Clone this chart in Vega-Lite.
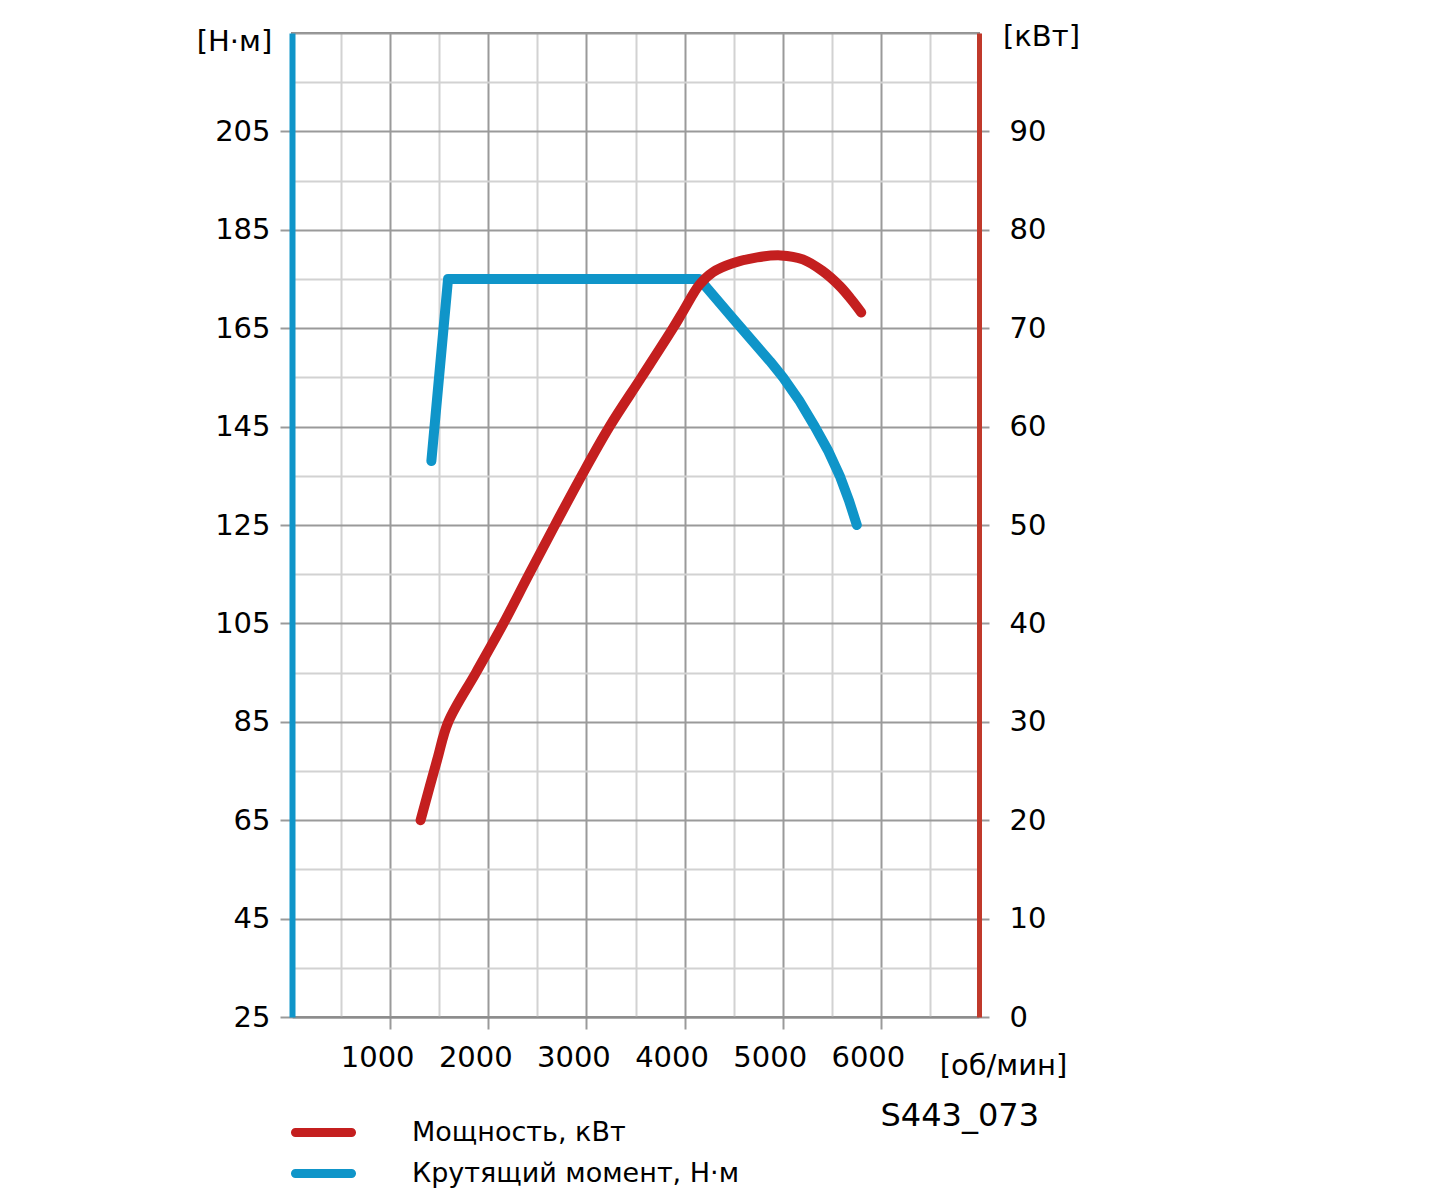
{
  "$schema": "https://vega.github.io/schema/vega-lite/v6.json",
  "width": 687,
  "height": 984,
  "autosize": {"type": "none"},
  "padding": {"left": 292, "top": 33, "right": 457, "bottom": 180},
  "background": "white",
  "config": {
    "view": {"stroke": "#8c8c8c", "strokeWidth": 2},
    "font": "DejaVu Sans"
  },
  "title": {
    "text": "S443_073",
    "orient": "top",
    "anchor": "end",
    "frame": "group",
    "dx": 60,
    "dy": 1115,
    "fontSize": 32,
    "fontWeight": "normal",
    "font": "DejaVu Sans",
    "color": "black"
  },
  "datasets": {
    "torque": [
      {"rpm": 1420, "nm": 138},
      {"rpm": 1590, "nm": 175},
      {"rpm": 4150, "nm": 175},
      {"rpm": 4500, "nm": 166.8},
      {"rpm": 4870, "nm": 158.3},
      {"rpm": 5003, "nm": 155},
      {"rpm": 5165, "nm": 150.4},
      {"rpm": 5327, "nm": 145},
      {"rpm": 5460, "nm": 140.2},
      {"rpm": 5581, "nm": 135},
      {"rpm": 5675, "nm": 130},
      {"rpm": 5755, "nm": 125}
    ],
    "power": [
      {"rpm": 1310, "kw": 20},
      {"rpm": 1478, "kw": 26.1},
      {"rpm": 1593, "kw": 30},
      {"rpm": 1875, "kw": 35},
      {"rpm": 2155, "kw": 40},
      {"rpm": 2415, "kw": 45},
      {"rpm": 2680, "kw": 50},
      {"rpm": 2950, "kw": 55},
      {"rpm": 3235, "kw": 60},
      {"rpm": 3560, "kw": 65},
      {"rpm": 3882, "kw": 70},
      {"rpm": 3990, "kw": 71.8},
      {"rpm": 4150, "kw": 74.4},
      {"rpm": 4290, "kw": 75.7},
      {"rpm": 4490, "kw": 76.6},
      {"rpm": 4740, "kw": 77.2},
      {"rpm": 4980, "kw": 77.4},
      {"rpm": 5205, "kw": 77.0},
      {"rpm": 5408, "kw": 75.8},
      {"rpm": 5584, "kw": 74.25},
      {"rpm": 5700, "kw": 72.9},
      {"rpm": 5800, "kw": 71.6}
    ]
  },
  "layer": [
    {
      "data": {"name": "torque"},
      "mark": {"type": "line", "strokeWidth": 10, "strokeCap": "round", "strokeJoin": "round"},
      "encoding": {
        "x": {
          "field": "rpm",
          "type": "quantitative",
          "scale": {"domain": [0, 7000], "nice": false, "zero": false},
          "axis": {
            "values": [0, 500, 1000, 1500, 2000, 2500, 3000, 3500, 4000, 4500, 5000, 5500, 6000, 6500, 7000],
            "labelExpr": "(datum.value % 1000 === 0 && datum.value > 0 && datum.value < 7000) ? datum.value : ''",
            "grid": true,
            "gridColor": {"condition": {"test": "datum.value % 1000 === 0", "value": "#9a9a9a"}, "value": "#d2d2d2"},
            "gridWidth": 2,
            "tickColor": "#9a9a9a",
            "tickOpacity": {"condition": {"test": "datum.value % 1000 === 0 && datum.value > 0 && datum.value < 7000", "value": 1}, "value": 0},
            "tickSize": 12,
            "tickWidth": 2,
            "domainColor": "#8c8c8c",
            "domainWidth": 2,
            "labelFontSize": 29,
            "labelColor": "black",
            "labelPadding": 14,
            "labelOffset": -13,
            "title": "[об/мин]",
            "titleFontSize": 29,
            "titleFontWeight": "normal",
            "titleColor": "black",
            "titleAngle": 0,
            "titleAlign": "center",
            "titleBaseline": "middle",
            "titleX": 711,
            "titleY": 48
          }
        },
        "y": {
          "field": "nm",
          "type": "quantitative",
          "scale": {"domain": [25, 225], "nice": false, "zero": false},
          "axis": {
            "orient": "left",
            "values": [25, 35, 45, 55, 65, 75, 85, 95, 105, 115, 125, 135, 145, 155, 165, 175, 185, 195, 205, 215, 225],
            "labelExpr": "((datum.value - 25) % 20 === 0 && datum.value < 225) ? datum.value : ''",
            "grid": true,
            "gridColor": {"condition": {"test": "(datum.value - 25) % 20 === 0", "value": "#9a9a9a"}, "value": "#d2d2d2"},
            "gridWidth": 2,
            "tickColor": "#9a9a9a",
            "tickOpacity": {"condition": {"test": "(datum.value - 25) % 20 === 0 && datum.value < 225", "value": 1}, "value": 0},
            "tickSize": 12,
            "tickWidth": 2,
            "domainColor": "#0f95c9",
            "domainWidth": 6,
            "labelFontSize": 29,
            "labelColor": "black",
            "labelPadding": 10,
            "title": "[Н·м]",
            "titleFontSize": 29,
            "titleFontWeight": "normal",
            "titleColor": "black",
            "titleAngle": 0,
            "titleAlign": "center",
            "titleBaseline": "middle",
            "titleX": -58,
            "titleY": 8
          }
        },
        "color": {
          "datum": "Крутящий момент, Н·м",
          "type": "nominal",
          "scale": {"domain": ["Мощность, кВт", "Крутящий момент, Н·м"], "range": ["#c41f1f", "#0f95c9"]},
          "legend": {
            "orient": "none",
            "legendX": 18,
            "legendY": 1086,
            "title": null,
            "symbolType": "M-3.45,-0.277H3.45A0.277,0.277 0 0 1 3.45,0.277H-3.45A0.277,0.277 0 0 1 -3.45,-0.277Z",
            "symbolSize": 264,
            "symbolStrokeWidth": 4.5,
            "labelFontSize": 27,
            "labelColor": "black",
            "labelOffset": 75,
            "labelLimit": 500,
            "rowPadding": 13
          }
        }
      }
    },
    {
      "data": {"name": "power"},
      "mark": {"type": "line", "strokeWidth": 10, "strokeCap": "round", "interpolate": "catmull-rom"},
      "encoding": {
        "x": {"field": "rpm", "type": "quantitative"},
        "y": {
          "field": "kw",
          "type": "quantitative",
          "scale": {"domain": [0, 100], "nice": false, "zero": false},
          "axis": {
            "orient": "right",
            "values": [0, 10, 20, 30, 40, 50, 60, 70, 80, 90],
            "grid": false,
            "tickColor": "#9a9a9a",
            "tickSize": 10,
            "tickWidth": 2,
            "domainColor": "#c0392b",
            "domainWidth": 5,
            "labelFontSize": 29,
            "labelColor": "black",
            "labelPadding": 20,
            "title": "[кВт]",
            "titleFontSize": 29,
            "titleFontWeight": "normal",
            "titleColor": "black",
            "titleAngle": 0,
            "titleAlign": "center",
            "titleBaseline": "middle",
            "titleX": 62,
            "titleY": 3
          }
        },
        "color": {"datum": "Мощность, кВт", "type": "nominal"}
      }
    }
  ],
  "resolve": {"scale": {"y": "independent"}}
}
